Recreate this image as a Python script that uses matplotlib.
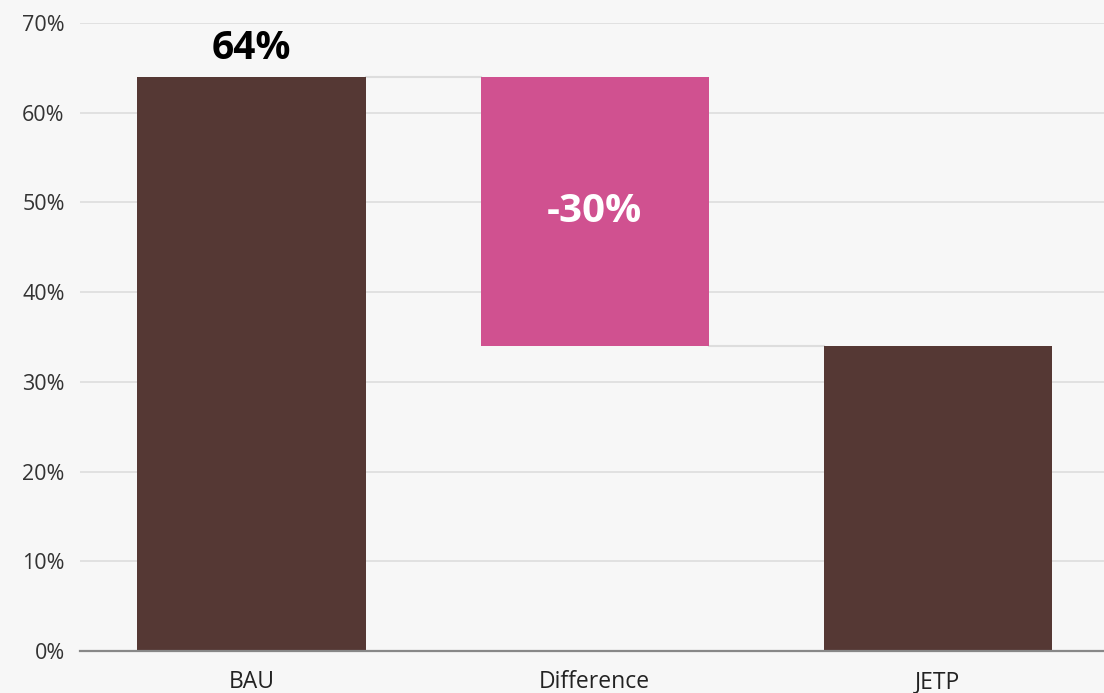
import matplotlib.pyplot as plt
from matplotlib.ticker import FuncFormatter

# waterfall: business as usual vs. JETP target
categories = ['BAU', 'Difference', 'JETP']
bau = 64
difference = -30
jetp = bau + difference

brown = '#553834'
pink = '#d05190'
grid_col = '#dddddd'
bg = '#f7f7f7'

plt.rcParams['font.family'] = ['Open Sans', 'DejaVu Sans']

fig = plt.figure(figsize=(11.04, 6.93), dpi=100, facecolor=bg)
ax = fig.add_axes([80 / 1104, 1 - 651 / 693, 1 - 80 / 1104, (651 - 23) / 693])
ax.set_facecolor(bg)

width = 0.665
x = range(len(categories))

# bars: totals sit on zero, the difference floats between them
ax.bar(0, bau, width=width, color=brown, zorder=3)
ax.bar(1, -difference, bottom=jetp, width=width, color=pink, zorder=3)
ax.bar(2, jetp, width=width, color=brown, zorder=3)

# connector lines between the bars
ax.plot([0 + width / 2, 1 - width / 2], [bau, bau], color=grid_col, lw=1.5, zorder=2)
ax.plot([1 + width / 2, 2 - width / 2], [jetp, jetp], color=grid_col, lw=1.5, zorder=2)

ax.annotate(f'{bau}%', xy=(0, bau), xytext=(0, 6), textcoords='offset points',
            ha='center', va='bottom', fontsize=28, fontweight='bold', color='black')
ax.text(1, (bau + jetp) / 2, f'{difference}%', ha='center', va='center',
        fontsize=29, fontweight='bold', color='white', zorder=4)

ax.set_xlim(-0.5, 2.484)
ax.set_ylim(0, 70)
ax.set_yticks(range(0, 71, 10))
ax.yaxis.set_major_formatter(FuncFormatter(lambda v, _: f'{v:.0f}%'))
ax.set_xticks(list(x))
ax.set_xticklabels(categories)

ax.grid(axis='y', color=grid_col, lw=1.2, zorder=0)
ax.tick_params(axis='y', length=0, pad=11, labelsize=15.5, labelcolor='#333333')
ax.tick_params(axis='x', length=0, pad=14, labelsize=16.5, labelcolor='#222222')

for side in ['top', 'right', 'left']:
    ax.spines[side].set_visible(False)
ax.spines['bottom'].set_color('#888888')
ax.spines['bottom'].set_linewidth(1.6)
ax.spines['bottom'].set_zorder(5)

fig.savefig('out.png', dpi=100, facecolor=bg)
